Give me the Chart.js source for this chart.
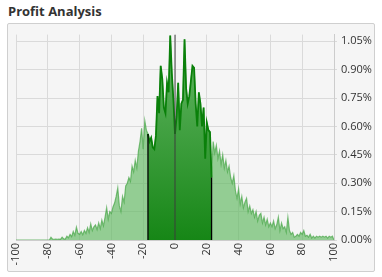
<!DOCTYPE html>
<html lang="en">
<head>
    <meta charset="UTF-8">
    <title>Profit Analysis</title>
    <script src="https://cdn.jsdelivr.net/npm/chart.js"></script>
    <style>
        body {
            margin: 0;
            background: #fff;
            font-family: 'Open Sans', sans-serif;
        }
        .title {
            position: absolute;
            left: 8px;
            top: 2px;
            font-size: 13px;
            font-weight: bold;
            color: #333;
        }
        .panel {
            position: absolute;
            left: 7px;
            top: 23px;
            width: 366px;
            height: 247px;
            border: 1px solid #cfcfcf;
            border-radius: 2px;
            background: #f5f5f5;
        }
    </style>
</head>
<body>
    <div class="title">Profit Analysis</div>
    <div class="panel">
        <canvas id="profitChart" width="366" height="247"></canvas>
    </div>

    <script>
        // histogram bins: one per unit of profit, from -100 to 100
        const binStart = -100;
        // share of outcomes per bin, in percent
        const profitPct = [
            0, 0, 0, 0, 0, 0, 0, 0, 0, 0,
            0, 0, 0, 0, 0, 0, 0, 0, 0, 0,
            0, 0, 0.014, 0.004, 0.004, 0.005, 0.004, 0.005, 0.004, 0.015,
            0.006, 0.005, 0.020, 0.012, 0.030, 0.018, 0.045, 0.025, 0.068, 0.035,
            0.030, 0.045, 0.028, 0.050, 0.035, 0.065, 0.040, 0.085, 0.050, 0.070,
            0.080, 0.055, 0.090, 0.060, 0.105, 0.075, 0.120, 0.170, 0.110, 0.150,
            0.140, 0.175, 0.195, 0.230, 0.275, 0.180, 0.150, 0.230, 0.200, 0.285,
            0.300, 0.330, 0.310, 0.390, 0.360, 0.420, 0.380, 0.470, 0.520, 0.590,
            0.48, 0.63, 0.58, 0.56, 0.52, 0.54, 0.49, 0.48, 0.55, 0.76,
            0.67, 0.92, 0.85, 0.70, 0.67, 0.83, 0.78, 1.08, 0.88, 0.74,
            0.56, 0.65, 0.83, 0.58, 0.72, 0.74, 1.06, 0.80, 0.72, 0.76,
            0.84, 0.92, 0.91, 0.72, 0.60, 0.78, 0.72, 0.60, 0.70, 0.43,
            0.62, 0.58, 0.57, 0.33, 0.52, 0.46, 0.50, 0.43, 0.47, 0.40,
            0.45, 0.38, 0.42, 0.36, 0.39, 0.33, 0.30, 0.34, 0.26, 0.22,
            0.27, 0.19, 0.23, 0.17, 0.20, 0.22, 0.15, 0.18, 0.14, 0.16,
            0.12, 0.15, 0.10, 0.13, 0.14, 0.09, 0.12, 0.08, 0.11, 0.07,
            0.09, 0.07, 0.10, 0.06, 0.08, 0.12, 0.05, 0.09, 0.06, 0.07,
            0.04, 0.12, 0.05, 0.03, 0.04, 0.015, 0.02, 0.03, 0.02, 0.04,
            0.03, 0.05, 0.02, 0.025, 0.015, 0.03, 0.01, 0.02, 0.01, 0.02,
            0.015, 0.02, 0.015, 0.02, 0.015, 0.02, 0.01, 0.02, 0.015, 0.02,
            0
        ];
        // highlighted range and the mean marker
        const rangeLow = -17;
        const rangeHigh = 23;
        const meanValue = 0;
        const yTop = 1.085;

        const points = profitPct.map((v, i) => ({ x: binStart + i, y: v }));
        const centerPoints = points.filter(p => p.x >= rangeLow && p.x <= rangeHigh);
        const valueAt = x => points.find(p => p.x === x).y;

        function centerGradient(context) {
            const area = context.chart.chartArea;
            if (!area) return 'rgba(40,140,40,0.9)';
            const g = context.chart.ctx.createLinearGradient(0, area.top, 0, area.bottom);
            g.addColorStop(0, 'rgb(104,184,104)');
            g.addColorStop(1, 'rgb(22,134,22)');
            return g;
        }

        const ctx = document.getElementById('profitChart').getContext('2d');
        const profitChart = new Chart(ctx, {
            type: 'line',
            data: {
                datasets: [
                    {
                        data: points,
                        order: 3,
                        fill: 'origin',
                        backgroundColor: 'rgba(100,186,100,0.68)',
                        borderColor: 'rgba(70,165,70,0.7)',
                        borderWidth: 1.2,
                        pointRadius: 0,
                        tension: 0
                    },
                    {
                        data: centerPoints,
                        order: 2,
                        fill: 'origin',
                        backgroundColor: centerGradient,
                        borderColor: 'rgb(10,128,10)',
                        borderWidth: 1.8,
                        pointRadius: 0,
                        tension: 0
                    },
                    {
                        data: [{ x: rangeLow, y: 0 }, { x: rangeLow, y: valueAt(rangeLow) }],
                        order: 1,
                        borderColor: '#000',
                        borderWidth: 1.3,
                        pointRadius: 0
                    },
                    {
                        data: [{ x: rangeHigh, y: 0 }, { x: rangeHigh, y: valueAt(rangeHigh) }],
                        order: 1,
                        borderColor: '#000',
                        borderWidth: 1.3,
                        pointRadius: 0
                    },
                    {
                        data: [{ x: meanValue, y: 0 }, { x: meanValue, y: yTop }],
                        order: 1,
                        borderColor: 'rgba(60,60,60,0.8)',
                        borderWidth: 1.2,
                        pointRadius: 0
                    }
                ]
            },
            options: {
                responsive: false,
                animation: false,
                layout: { padding: { left: 8, top: 8, right: 0, bottom: 0 } },
                plugins: {
                    legend: { display: false },
                    tooltip: { enabled: false }
                },
                scales: {
                    x: {
                        type: 'linear',
                        min: -100,
                        max: 100,
                        afterFit: s => { s.height = 31; },
                        grid: { color: '#dadada', drawTicks: false, tickLength: 0 },
                        border: { color: '#cccccc' },
                        ticks: {
                            stepSize: 20,
                            minRotation: 90,
                            maxRotation: 90,
                            padding: 3,
                            color: '#333',
                            font: { family: 'Open Sans', size: 11 }
                        }
                    },
                    y: {
                        position: 'right',
                        min: 0,
                        max: yTop,
                        afterFit: s => { s.width = 40; },
                        grid: { color: '#dadada', tickLength: 3 },
                        border: { color: '#cccccc' },
                        ticks: {
                            stepSize: 0.15,
                            includeBounds: false,
                            padding: 4,
                            color: '#333',
                            font: { family: 'Open Sans', size: 11 },
                            callback: v => v.toFixed(2) + '%'
                        }
                    }
                }
            }
        });
    </script>
</body>
</html>
